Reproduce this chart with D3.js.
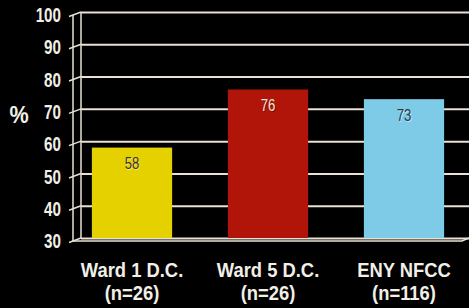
<!DOCTYPE html>
<html>
<head>
<meta charset="utf-8">
<script src="https://cdn.jsdelivr.net/npm/d3@7"></script>
<style>
    html, body { margin: 0; padding: 0; background: #000; }
    svg { display: block; }
    text { font-family: "Liberation Sans", Arial, sans-serif; }
</style>
</head>
<body>
<svg id="chart" width="469" height="308"></svg>
<script>
// data
var categories = ['Ward 1 D.C.', 'Ward 5 D.C.', 'ENY NFCC'];
var sampleSizes = ['(n=26)', '(n=26)', '(n=116)'];
var values = [58, 76, 73];
var tickValues = [30, 40, 50, 60, 70, 80, 90, 100];

var barColors = ['#e5d100', '#b1150a', '#7ecbe8'];
var labelColors = ['#3a3222', '#f3e6d6', '#24384a'];
var lineColor = '#e9e2d4';
var textColor = '#f2efe6';

var svg = d3.select('#chart');

var y = d3.scaleLinear()
    .domain([30, 100])
    .range([238, 12]);

var x = d3.scaleBand()
    .domain(categories)
    .range([64, 472])
    .paddingInner(0.41)
    .paddingOuter(0.205);

var backX = 81;   // back wall
var dx = -8, dy = 3; // perspective offset of front edge

// narrow text: a group at (px, py) squeezed horizontally
function narrow(parent, px, py, sx) {
    return parent.append('g')
        .attr('transform', `translate(${px},${py}) scale(${sx},1)`)
        .append('text');
}

// gridlines on the back wall
var grid = d3.axisRight(y)
    .tickValues(tickValues)
    .tickSize(469 - backX)
    .tickFormat('');

svg.append('g')
    .attr('transform', `translate(${backX},0)`)
    .call(grid)
    .call(g => g.select('.domain').remove())
    .call(g => g.selectAll('.tick line')
        .attr('stroke', lineColor)
        .attr('stroke-width', 2));

// back vertical line
svg.append('line')
    .attr('x1', backX).attr('x2', backX)
    .attr('y1', y(100)).attr('y2', y(30))
    .attr('stroke', lineColor)
    .attr('stroke-width', 1.5);

// front vertical line
svg.append('line')
    .attr('x1', backX + dx).attr('x2', backX + dx)
    .attr('y1', y(100) + dy).attr('y2', y(30) + dy)
    .attr('stroke', lineColor)
    .attr('stroke-width', 1.5);

// diagonal tick marks
svg.append('g')
    .selectAll('line')
    .data(tickValues)
    .join('line')
    .attr('x1', backX + dx - 4).attr('y1', d => y(d) + dy + 1.5)
    .attr('x2', backX).attr('y2', d => y(d))
    .attr('stroke', lineColor)
    .attr('stroke-width', 1.5);

// floor front edge
svg.append('path')
    .attr('d', `M${backX + dx},${y(30) + dy} L462,${y(30) + dy} L469,${y(30)}`)
    .attr('fill', 'none')
    .attr('stroke', lineColor)
    .attr('stroke-width', 1.5);

// tick labels
var ticksG = svg.append('g');
tickValues.forEach(function (d) {
    narrow(ticksG, 61, y(d) + dy, 0.76)
        .attr('dy', '0.36em')
        .attr('text-anchor', 'end')
        .attr('fill', textColor)
        .attr('font-size', 20)
        .attr('font-weight', 'bold')
        .text(d);
});

narrow(svg, 19, 114, 0.9)
    .attr('dy', '0.36em')
    .attr('text-anchor', 'middle')
    .attr('fill', textColor)
    .attr('font-size', 24)
    .attr('font-weight', 'bold')
    .text('%');

// bars
svg.append('g')
    .selectAll('rect')
    .data(values)
    .join('rect')
    .attr('x', (d, i) => x(categories[i]))
    .attr('y', d => y(d))
    .attr('width', x.bandwidth())
    .attr('height', d => y(30) - y(d))
    .attr('fill', (d, i) => barColors[i]);

// value labels
var valG = svg.append('g');
values.forEach(function (d, i) {
    var cx = x(categories[i]) + x.bandwidth() / 2;
    // faint shadow
    narrow(valG, cx + 0.8, y(d) + 16.8, 0.82)
        .attr('dy', '0.36em')
        .attr('text-anchor', 'middle')
        .attr('fill', i === 1 ? '#3a0c06' : '#ffffff')
        .attr('fill-opacity', 0.55)
        .attr('font-size', 16)
        .text(d);
    narrow(valG, cx, y(d) + 16, 0.82)
        .attr('dy', '0.36em')
        .attr('text-anchor', 'middle')
        .attr('fill', labelColors[i])
        .attr('font-size', 16)
        .text(d);
});

// category labels
var catG = svg.append('g');
categories.forEach(function (d, i) {
    var cx = x(d) + x.bandwidth() / 2;
    narrow(catG, cx, 277, 0.92)
        .attr('text-anchor', 'middle')
        .attr('fill', textColor)
        .attr('font-size', 20)
        .attr('font-weight', 'bold')
        .text(d);
    narrow(catG, cx, 300, 0.92)
        .attr('text-anchor', 'middle')
        .attr('fill', textColor)
        .attr('font-size', 20)
        .attr('font-weight', 'bold')
        .text(sampleSizes[i]);
});
</script>
</body>
</html>
